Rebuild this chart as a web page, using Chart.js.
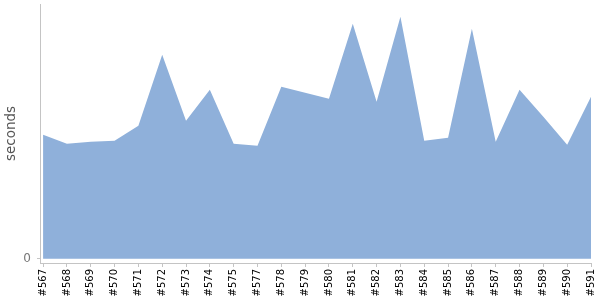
<!DOCTYPE html>
<html>
<head>
<meta charset="utf-8">
<script src="https://cdn.jsdelivr.net/npm/chart.js@4"></script>
<style>
  html, body { margin: 0; padding: 0; background: #fff; }
  #wrap { width: 600px; height: 300px; }
</style>
</head>
<body>
<div id="wrap"><canvas id="timeChart" width="600" height="300"></canvas></div>
<script>
// build numbers (#576 missing in the source)
const builds = [
  "#567", "#568", "#569", "#570", "#571", "#572", "#573", "#574", "#575", "#577",
  "#578", "#579", "#580", "#581", "#582", "#583", "#584", "#585", "#586", "#587",
  "#588", "#589", "#590", "#591"
];
// duration per build
const seconds = [
  12.4, 11.5, 11.7, 11.8, 13.3, 20.4, 13.8, 16.9, 11.5, 11.3,
  17.2, 16.6, 16.0, 23.5, 15.7, 24.2, 11.8, 12.1, 23.0, 11.7,
  16.9, 14.2, 11.4, 16.2
];
const yTicks = [0];

const ctx = document.getElementById("timeChart");
const timeChart = new Chart(ctx, {
  type: "line",
  data: {
    datasets: [
      {
        label: "seconds",
        data: builds.map((b, i) => ({ x: i, y: seconds[i] })),
        backgroundColor: "#8fb0da",
        borderColor: "#8fb0da",
        borderWidth: 0,
        pointRadius: 0,
        tension: 0,
        fill: "origin"
      }
    ]
  },
  options: {
    responsive: false,
    animation: false,
    layout: { padding: { top: 4, right: 9, left: 0, bottom: 0 } },
    plugins: { legend: { display: false }, tooltip: { enabled: false } },
    scales: {
      x: {
        type: "linear",
        min: -0.13,
        max: builds.length - 1,
        afterBuildTicks: s => { s.ticks = builds.map((_, i) => ({ value: i })); },
        afterFit: s => {
          s.height = 37;
          s.paddingLeft = 0;
          s.paddingRight = 0;
        },
        border: { color: "#c4c4c4", width: 1 },
        grid: { drawOnChartArea: false, drawTicks: true, tickLength: 4, color: "#c4c4c4" },
        ticks: {
          autoSkip: false,
          minRotation: 90,
          maxRotation: 90,
          padding: 2,
          color: "#000",
          font: { family: "DejaVu Sans", size: 10 },
          callback: v => builds[Math.round(v)]
        }
      },
      y: {
        min: -0.43,
        max: 25.47,
        afterBuildTicks: s => { s.ticks = yTicks.map(v => ({ value: v })); },
        afterFit: s => {
          s.width = 40;
          s.paddingTop = 0;
          s.paddingBottom = 0;
        },
        border: { color: "#c4c4c4", width: 1 },
        grid: { drawOnChartArea: false, drawTicks: true, tickLength: 3, color: "#c4c4c4" },
        ticks: {
          padding: 6,
          color: "#777",
          font: { family: "DejaVu Sans", size: 12 }
        },
        title: {
          display: true,
          text: "seconds",
          color: "#555",
          padding: { top: 3, bottom: 0 },
          font: { family: "DejaVu Sans", size: 13.5 }
        }
      }
    }
  }
});
</script>
</body>
</html>
